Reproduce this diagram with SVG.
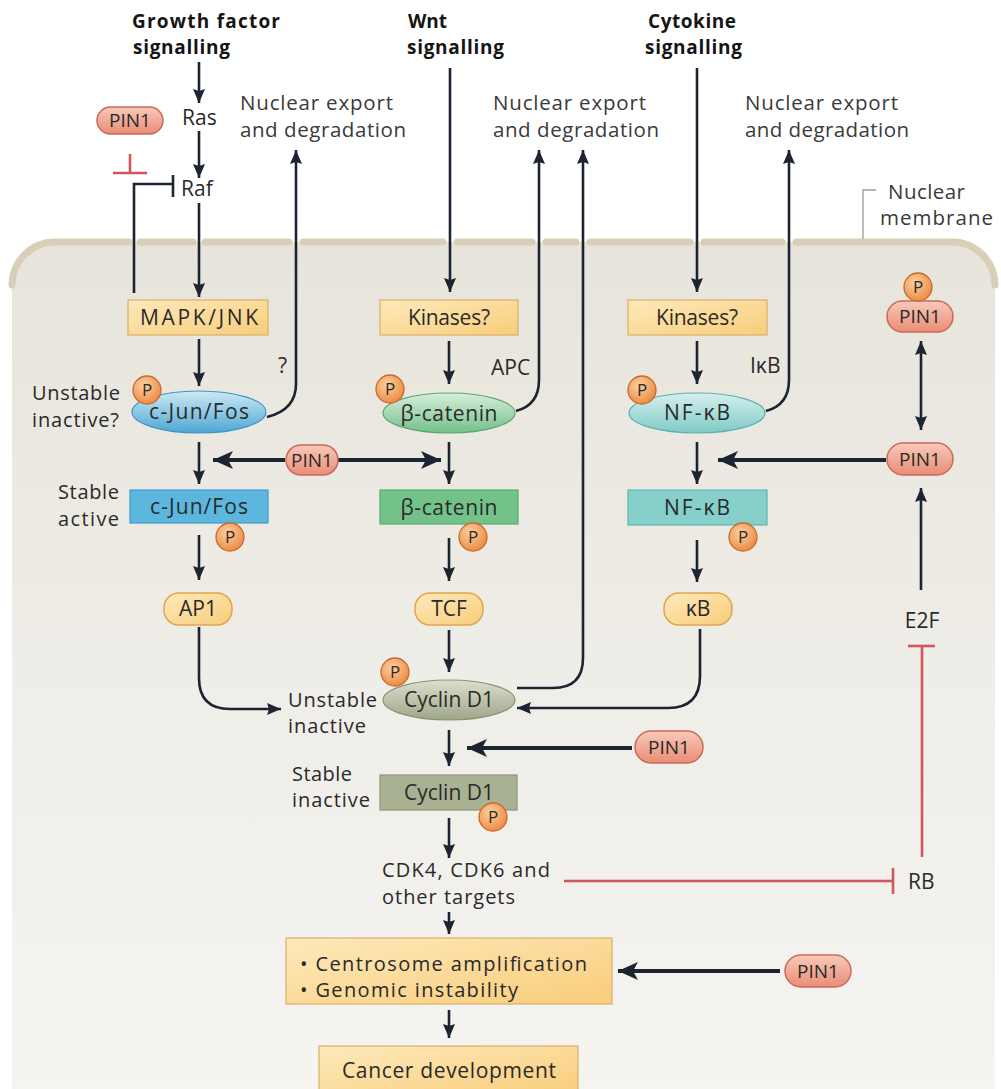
<svg xmlns="http://www.w3.org/2000/svg" width="1001" height="1089" viewBox="0 0 1001 1089">
<defs>
<style>
.t{font-family:"Open Sans","Liberation Sans",sans-serif;fill:#2a2a2a;font-size:21px}
.h{font-weight:bold;font-size:19px;fill:#151515}
.g{fill:#3a3a3a;font-size:20.5px}
.m{font-size:20px}
.c{text-anchor:middle}
.r{text-anchor:end}
.ln{fill:none;stroke:#1b2430;stroke-width:2.6}
.tk{fill:none;stroke:#1b2430;stroke-width:4}
.rd{fill:none;stroke:#d0565a;stroke-width:2.6}
.mem{fill:none;stroke:#d8cfb8;stroke-width:7;stroke-linecap:round}
.pin{fill:url(#gPin);stroke:#c96a58;stroke-width:1.5}
.p{fill:url(#gP);stroke:#c9692e;stroke-width:1.3}
.pt{font-size:17px}
.pn{font-size:19px}
.box{fill:url(#gBox);stroke:#d9b06a;stroke-width:1.2}
.pill{fill:url(#gBox);stroke:#e0a64c;stroke-width:1.5}
</style>
<linearGradient id="gNuc" x1="0" y1="0" x2="0" y2="1">
<stop offset="0" stop-color="#e7e4db"/><stop offset="0.5" stop-color="#efede7"/><stop offset="1" stop-color="#f5f4f1"/>
</linearGradient>
<linearGradient id="gBox" x1="0" y1="0" x2="1" y2="1">
<stop offset="0" stop-color="#fde9bc"/><stop offset="1" stop-color="#f9cd7a"/>
</linearGradient>
<linearGradient id="gPin" x1="0" y1="0" x2="0" y2="1">
<stop offset="0" stop-color="#f8c9ba"/><stop offset="1" stop-color="#e98d76"/>
</linearGradient>
<radialGradient id="gP" cx="0.4" cy="0.35" r="0.7">
<stop offset="0" stop-color="#fcd0a0"/><stop offset="1" stop-color="#ec8840"/>
</radialGradient>
<linearGradient id="gJunE" x1="0" y1="0" x2="0" y2="1">
<stop offset="0" stop-color="#cdeaf5"/><stop offset="1" stop-color="#4ea6d3"/>
</linearGradient>
<linearGradient id="gCatE" x1="0" y1="0" x2="0" y2="1">
<stop offset="0" stop-color="#d6eedb"/><stop offset="1" stop-color="#74c08a"/>
</linearGradient>
<linearGradient id="gNfE" x1="0" y1="0" x2="0" y2="1">
<stop offset="0" stop-color="#d6f0ee"/><stop offset="1" stop-color="#7fcac6"/>
</linearGradient>
<linearGradient id="gCycE" x1="0" y1="0" x2="0" y2="1">
<stop offset="0" stop-color="#dcdfcd"/><stop offset="1" stop-color="#9ea68a"/>
</linearGradient>
<marker id="ah" markerUnits="userSpaceOnUse" markerWidth="14" markerHeight="12" viewBox="0 0 14 12" refX="14" refY="6" orient="auto-start-reverse">
<path d="M0,0 L14,6 L0,12 L2,6 Z" fill="#1b2430"/>
</marker>
<marker id="ahb" markerUnits="userSpaceOnUse" markerWidth="20" markerHeight="18" viewBox="0 0 20 18" refX="20" refY="9" orient="auto-start-reverse">
<path d="M0,0 L20,9 L0,18 L5,9 Z" fill="#1b2430"/>
</marker>
</defs>

<rect width="1001" height="1089" fill="#ffffff"/>

<g id="nucleus">
<path d="M12,1089 V285 A43,43 0 0 1 55,242 H952 A43,43 0 0 1 995,285 V1089 Z" fill="url(#gNuc)"/>
<path class="mem" d="M12,285 A43,43 0 0 1 55,242 H129"/>
<path class="mem" d="M140,242 H193"/>
<path class="mem" d="M205,242 H289"/>
<path class="mem" d="M303,242 H443"/>
<path class="mem" d="M457,242 H532"/>
<path class="mem" d="M546,242 H576"/>
<path class="mem" d="M590,242 H690"/>
<path class="mem" d="M704,242 H782"/>
<path class="mem" d="M796,242 H952 A43,43 0 0 1 995,285"/>
<path d="M863,239 V190 H876" fill="none" stroke="#a09a8c" stroke-width="1.3"/>
<text class="t g" x="888" y="199" font-size="19" textLength="77">Nuclear</text>
<text class="t g" x="880" y="225" font-size="19" textLength="113">membrane</text>
</g>

<g id="headers">
<text class="t h" x="132" y="28" textLength="148">Growth factor</text>
<text class="t h" x="133" y="54" textLength="97">signalling</text>
<text class="t h" x="408" y="28">Wnt</text>
<text class="t h" x="407" y="54" textLength="97">signalling</text>
<text class="t h" x="648" y="28" textLength="88">Cytokine</text>
<text class="t h" x="645" y="54" textLength="97">signalling</text>
</g>

<g id="export-labels">
<text class="t g" x="240" y="110" textLength="153">Nuclear export</text>
<text class="t g" x="240" y="137" textLength="166">and degradation</text>
<text class="t g" x="493" y="110" textLength="153">Nuclear export</text>
<text class="t g" x="493" y="137" textLength="166">and degradation</text>
<text class="t g" x="745" y="110" textLength="153">Nuclear export</text>
<text class="t g" x="745" y="137" textLength="164">and degradation</text>
</g>

<g id="connectors">
<path class="ln" d="M199,62 V103" marker-end="url(#ah)"/>
<path class="ln" d="M199,131 V178" marker-end="url(#ah)"/>
<path class="ln" d="M199,203 V297" marker-end="url(#ah)"/>
<path class="ln" d="M134,293 V184 H172"/>
<path class="ln" d="M173,175 V197" stroke-width="3"/>
<path class="rd" d="M130,154 V173"/>
<path class="rd" d="M113,173 H147"/>
<path class="ln" d="M199,339 V386" marker-end="url(#ah)"/>
<path class="ln" d="M267,417 Q296,410 296,384 V150" marker-end="url(#ah)"/>
<path class="ln" d="M199,442 V484" marker-end="url(#ah)"/>
<path class="tk" d="M285,460 H213" marker-end="url(#ahb)"/>
<path class="tk" d="M337,460 H441" marker-end="url(#ahb)"/>
<path class="ln" d="M199,535 V580" marker-end="url(#ah)"/>
<path class="ln" d="M199,627 V678 Q199,709 230,709 H281" marker-end="url(#ah)"/>
<path class="ln" d="M450,68 V292" marker-end="url(#ah)"/>
<path class="ln" d="M449,341 V384" marker-end="url(#ah)"/>
<path class="ln" d="M516,411 Q539,405 539,380 V150" marker-end="url(#ah)"/>
<path class="ln" d="M449,442 V484" marker-end="url(#ah)"/>
<path class="ln" d="M449,538 V581" marker-end="url(#ah)"/>
<path class="ln" d="M449,630 V672" marker-end="url(#ah)"/>
<path class="ln" d="M517,688 H553 Q583,688 583,658 V150" marker-end="url(#ah)"/>
<path class="ln" d="M697,68 V292" marker-end="url(#ah)"/>
<path class="ln" d="M697,341 V384" marker-end="url(#ah)"/>
<path class="ln" d="M766,411 Q789,405 789,380 V150" marker-end="url(#ah)"/>
<path class="ln" d="M697,442 V484" marker-end="url(#ah)"/>
<path class="ln" d="M697,540 V582" marker-end="url(#ah)"/>
<path class="ln" d="M700,629 V676 Q700,708 668,708 H517" marker-end="url(#ah)"/>
<path class="tk" d="M886,460 H718" marker-end="url(#ahb)"/>
<path class="ln" d="M921,341 V430" marker-start="url(#ah)" marker-end="url(#ah)"/>
<path class="ln" d="M921,590 V488" marker-end="url(#ah)"/>
<path class="rd" d="M922,857 V646"/>
<path class="rd" d="M908,646 H935"/>
<path class="rd" d="M564,881 H892"/>
<path class="rd" d="M893,868 V894"/>
<path class="ln" d="M449,730 V766" marker-end="url(#ah)"/>
<path class="tk" d="M632,748 H467" marker-end="url(#ahb)"/>
<path class="ln" d="M449,818 V858" marker-end="url(#ah)"/>
<path class="ln" d="M449,912 V934" marker-end="url(#ah)"/>
<path class="tk" d="M780,971 H618" marker-end="url(#ahb)"/>
<path class="ln" d="M449,1010 V1038" marker-end="url(#ah)"/>
</g>

<g id="ras"><text class="t" x="182" y="125" font-size="20">Ras</text></g>
<g id="raf"><text class="t" x="181" y="196" font-size="20">Raf</text></g>
<g id="pin1-raf">
<rect class="pin" x="97" y="107" width="66" height="27" rx="13.5"/>
<text class="t c pn" x="130" y="127">PIN1</text>
</g>

<g id="mapk">
<rect class="box" x="128" y="300" width="140" height="35"/>
<text class="t c" x="199" y="325" font-size="22" textLength="118">MAPK/JNK</text>
</g>
<g id="kinases-wnt">
<rect class="box" x="380" y="300" width="138" height="35"/>
<text class="t c" x="449" y="325" textLength="82">Kinases?</text>
</g>
<g id="kinases-cyt">
<rect class="box" x="628" y="300" width="139" height="35"/>
<text class="t c" x="697" y="325" textLength="82">Kinases?</text>
</g>

<g id="cjun-unstable">
<ellipse cx="199" cy="412" rx="67" ry="21" fill="url(#gJunE)" stroke="#3f95c4" stroke-width="1.2"/>
<text class="t c" x="199" y="419" textLength="100">c-Jun/Fos</text>
<circle class="p" cx="147" cy="390" r="14"/>
<text class="t c pt" x="147" y="396">P</text>
<text class="t r m" x="120" y="400" textLength="88">Unstable</text>
<text class="t r m" x="119" y="427" textLength="87">inactive?</text>
<text class="t" x="278" y="373" font-size="20">?</text>
</g>
<g id="catenin-unstable">
<ellipse cx="449" cy="413" rx="66" ry="20" fill="url(#gCatE)" stroke="#5aa872" stroke-width="1.2"/>
<text class="t c" x="449" y="421" font-size="22" textLength="97">β-catenin</text>
<circle class="p" cx="390" cy="389" r="14"/>
<text class="t c pt" x="390" y="395">P</text>
<text class="t" x="491" y="375" font-size="20">APC</text>
</g>
<g id="nfkb-unstable">
<ellipse cx="697" cy="413" rx="68" ry="20" fill="url(#gNfE)" stroke="#5cb2ae" stroke-width="1.2"/>
<text class="t c" x="697" y="420" textLength="66">NF-κB</text>
<circle class="p" cx="642" cy="390" r="14"/>
<text class="t c pt" x="642" y="396">P</text>
<text class="t" x="750" y="373" font-size="20">IκB</text>
</g>

<g id="pin1-mid">
<rect class="pin" x="286" y="445" width="52" height="30" rx="15"/>
<text class="t c pn" x="312" y="467">PIN1</text>
</g>

<g id="cjun-stable">
<rect x="130" y="490" width="138" height="33" fill="#5cb6de" stroke="#3d9ac8" stroke-width="1.2"/>
<text class="t c" x="199" y="514" textLength="98">c-Jun/Fos</text>
<circle class="p" cx="230" cy="537" r="14"/>
<text class="t c pt" x="230" y="543">P</text>
<text class="t r m" x="119" y="499" textLength="61">Stable</text>
<text class="t r m" x="119" y="526" textLength="61">active</text>
</g>
<g id="catenin-stable">
<rect x="380" y="490" width="138" height="34" fill="#72c28a" stroke="#56a86e" stroke-width="1.2"/>
<text class="t c" x="449" y="515" font-size="22" textLength="97">β-catenin</text>
<circle class="p" cx="473" cy="537" r="14"/>
<text class="t c pt" x="473" y="543">P</text>
</g>
<g id="nfkb-stable">
<rect x="628" y="490" width="139" height="35" fill="#86cfca" stroke="#62b6b0" stroke-width="1.2"/>
<text class="t c" x="697" y="515" textLength="66">NF-κB</text>
<circle class="p" cx="743" cy="537" r="14"/>
<text class="t c pt" x="743" y="543">P</text>
</g>

<g id="ap1">
<rect class="pill" x="164" y="593" width="68" height="32" rx="15"/>
<text class="t c" x="198" y="616" font-size="20">AP1</text>
</g>
<g id="tcf">
<rect class="pill" x="415" y="593" width="68" height="32" rx="15"/>
<text class="t c" x="449" y="616" font-size="20">TCF</text>
</g>
<g id="kb">
<rect class="pill" x="664" y="593" width="68" height="32" rx="15"/>
<text class="t c" x="698" y="616" font-size="20">κB</text>
</g>

<g id="pin1-top">
<rect class="pin" x="887" y="301" width="66" height="31" rx="15.5"/>
<text class="t c pn" x="920" y="323">PIN1</text>
<circle class="p" cx="918" cy="287" r="14"/>
<text class="t c pt" x="918" y="293">P</text>
</g>
<g id="pin1-right">
<rect class="pin" x="887" y="443" width="66" height="32" rx="16"/>
<text class="t c pn" x="920" y="466">PIN1</text>
</g>
<g id="e2f"><text class="t c" x="922" y="628" font-size="19">E2F</text></g>
<g id="rb"><text class="t" x="908" y="889" font-size="20">RB</text></g>

<g id="cyclin-unstable">
<ellipse cx="449" cy="700" rx="66" ry="20" fill="url(#gCycE)" stroke="#8a9274" stroke-width="1.2"/>
<text class="t c" x="449" y="707" textLength="90">Cyclin D1</text>
<circle class="p" cx="395" cy="672" r="14"/>
<text class="t c pt" x="395" y="678">P</text>
<text class="t m" x="288" y="707" textLength="89">Unstable</text>
<text class="t m" x="288" y="733" textLength="78">inactive</text>
</g>
<g id="pin1-cyclin">
<rect class="pin" x="635" y="731" width="68" height="32" rx="16"/>
<text class="t c pn" x="669" y="754">PIN1</text>
</g>
<g id="cyclin-stable">
<rect x="380" y="775" width="137" height="35" fill="#a9b193" stroke="#8d9578" stroke-width="1.2"/>
<text class="t c" x="449" y="800" textLength="90">Cyclin D1</text>
<circle class="p" cx="493" cy="817" r="14"/>
<text class="t c pt" x="493" y="823">P</text>
<text class="t m" x="292" y="781" textLength="60">Stable</text>
<text class="t m" x="292" y="807" textLength="78">inactive</text>
</g>

<g id="cdk">
<text class="t m" x="382" y="877" textLength="168">CDK4, CDK6 and</text>
<text class="t m" x="382" y="904" textLength="133">other targets</text>
</g>

<g id="centrosome">
<rect class="box" x="286" y="938" width="326" height="66"/>
<text class="t m" x="300" y="971" textLength="287">• Centrosome amplification</text>
<text class="t m" x="300" y="997" textLength="218">• Genomic instability</text>
</g>
<g id="pin1-bottom">
<rect class="pin" x="785" y="955" width="66" height="32" rx="16"/>
<text class="t c pn" x="818" y="978">PIN1</text>
</g>
<g id="cancer">
<rect class="box" x="319" y="1046" width="259" height="50"/>
<text class="t c" x="449" y="1078" textLength="214">Cancer development</text>
</g>
</svg>
